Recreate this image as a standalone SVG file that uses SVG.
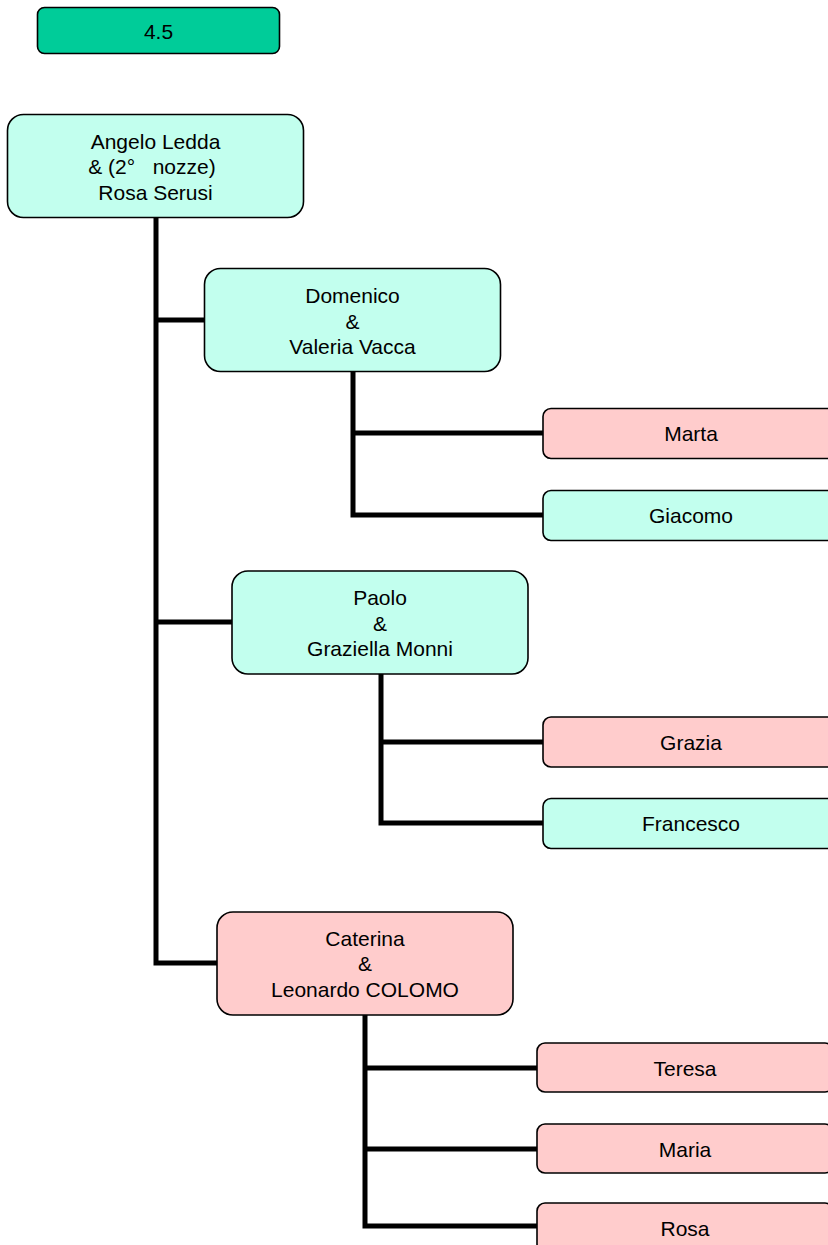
<svg xmlns="http://www.w3.org/2000/svg" width="828" height="1245" viewBox="0 0 828 1245">
<style>
.box{stroke:#000;stroke-width:1.6}
.m{fill:#C2FFEE}
.f{fill:#FFCCCC}
.h{fill:#00CC99}
text{font-family:"Liberation Sans",Arial,sans-serif;font-size:21px;fill:#000;text-anchor:middle}
.c{fill:none;stroke:#000;stroke-width:5;stroke-linejoin:miter;stroke-linecap:butt}
</style>
<rect width="828" height="1245" fill="#fff"/>
<g id="connectors">
<polyline class="c" points="156,217 156,963 217,963"/>
<line class="c" x1="156" y1="320" x2="204" y2="320"/>
<line class="c" x1="156" y1="622" x2="232" y2="622"/>
<polyline class="c" points="353,371 353,515 543,515"/>
<line class="c" x1="353" y1="433" x2="543" y2="433"/>
<polyline class="c" points="381,674 381,823 543,823"/>
<line class="c" x1="381" y1="742" x2="543" y2="742"/>
<polyline class="c" points="365,1015 365,1226 537,1226"/>
<line class="c" x1="365" y1="1068" x2="537" y2="1068"/>
<line class="c" x1="365" y1="1149" x2="537" y2="1149"/>
</g>
<g id="title">
<rect class="box h" x="37.5" y="7.5" width="242" height="46" rx="7"/>
<text x="158.5" y="39">4.5</text>
</g>
<g id="angelo">
<rect class="box m" x="7.5" y="114.5" width="296" height="103" rx="16"/>
<text x="155.5" y="148.5">Angelo Ledda</text>
<text x="152" y="174">&amp; (2°&#160;&#160; nozze)</text>
<text x="155.5" y="199.5">Rosa Serusi</text>
</g>
<g id="domenico">
<rect class="box m" x="204.5" y="268.5" width="296" height="103" rx="16"/>
<text x="352.5" y="303">Domenico</text>
<text x="352.5" y="328.5">&amp;</text>
<text x="352.5" y="354">Valeria Vacca</text>
</g>
<g id="marta">
<rect class="box f" x="543" y="408.5" width="296" height="50" rx="8"/>
<text x="691" y="441">Marta</text>
</g>
<g id="giacomo">
<rect class="box m" x="543" y="490.5" width="296" height="50" rx="8"/>
<text x="691" y="523">Giacomo</text>
</g>
<g id="paolo">
<rect class="box m" x="232" y="571" width="296" height="103" rx="16"/>
<text x="380" y="605">Paolo</text>
<text x="380" y="630.5">&amp;</text>
<text x="380" y="656">Graziella Monni</text>
</g>
<g id="grazia">
<rect class="box f" x="543" y="717" width="296" height="50" rx="8"/>
<text x="691" y="749.5">Grazia</text>
</g>
<g id="francesco">
<rect class="box m" x="543" y="798.5" width="296" height="50" rx="8"/>
<text x="691" y="831">Francesco</text>
</g>
<g id="caterina">
<rect class="box f" x="217" y="912" width="296" height="103" rx="16"/>
<text x="365" y="945.5">Caterina</text>
<text x="365" y="971">&amp;</text>
<text x="365" y="996.5">Leonardo COLOMO</text>
</g>
<g id="teresa">
<rect class="box f" x="537" y="1043" width="296" height="49" rx="8"/>
<text x="685" y="1075.5">Teresa</text>
</g>
<g id="maria">
<rect class="box f" x="537" y="1124" width="296" height="49" rx="8"/>
<text x="685" y="1156.5">Maria</text>
</g>
<g id="rosa">
<rect class="box f" x="537" y="1203" width="296" height="49" rx="8"/>
<text x="685" y="1235.5">Rosa</text>
</g>
</svg>
